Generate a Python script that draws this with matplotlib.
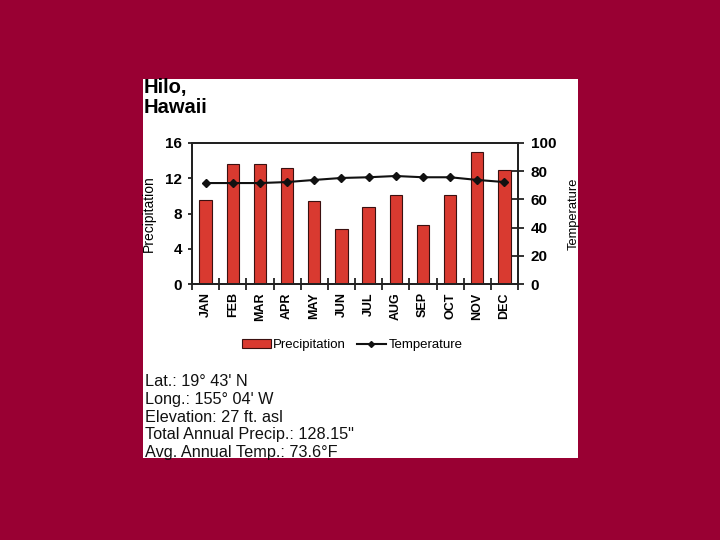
import numpy as np
import matplotlib
matplotlib.use("Agg")
import matplotlib.pyplot as plt
from matplotlib.patches import Rectangle, Patch
from matplotlib.lines import Line2D

plt.rcParams['font.family'] = ['Liberation Sans', 'DejaVu Sans']

months = ['JAN', 'FEB', 'MAR', 'APR', 'MAY', 'JUN', 'JUL', 'AUG', 'SEP', 'OCT', 'NOV', 'DEC']
precip = [9.5, 13.6, 13.6, 13.2, 9.4, 6.2, 8.7, 10.1, 6.7, 10.1, 15.0, 12.9]
temp = [71.6, 71.6, 71.6, 72.3, 73.8, 75.2, 75.7, 76.6, 75.7, 75.7, 73.8, 72.3]
precip_ticks = [0, 4, 8, 12, 16]
temp_ticks = [0, 20, 40, 60, 80, 100]
info_lines = ["Lat.: 19\u00b0 43' N",
              "Long.: 155\u00b0 04' W",
              "Elevation: 27 ft. asl",
              'Total Annual Precip.: 128.15"',
              "Avg. Annual Temp.: 73.6\u00b0F"]

W, H = 720, 540
bg = '#990033'
bar_color = '#d93a30'

fig = plt.figure(figsize=(7.2, 5.4), dpi=100, facecolor=bg)

# white panel behind everything
fig.patches.append(Rectangle((143 / W, 1 - 458 / H), 435 / W, 379 / H,
                             transform=fig.transFigure, facecolor='white',
                             edgecolor='none', zorder=-5))

ax = fig.add_axes([192 / W, 1 - 284 / H, 326 / W, 141 / H])
ax.set_facecolor('white')
x = np.arange(len(months))
ax.bar(x, precip, width=0.45, color=bar_color, edgecolor='#3a1010', linewidth=0.8, zorder=2)
ax.set_xlim(-0.5, 11.5)
ax.set_ylim(0, 16)
ax.set_yticks(precip_ticks)
ax.set_xticks(x)
ax.set_xticklabels(months, rotation=90, fontsize=9, fontweight='bold')
ax.set_xticks(np.arange(-0.5, 12, 1), minor=True)
ax.tick_params(axis='x', which='major', length=0, pad=6)
ax.tick_params(axis='x', which='minor', direction='inout', length=8, width=1.3, color='#222222')
ax.tick_params(axis='y', direction='out', length=3, width=1.3, pad=4, labelsize=11, color='#222222')
for lbl in ax.get_yticklabels():
    lbl.set_fontweight('bold')
for sp in ax.spines.values():
    sp.set_linewidth(1.4)
    sp.set_color('#222222')
ax.set_ylabel('Precipitation', fontsize=10)
ax.yaxis.set_label_coords(-0.112, 0.5)

ax2 = ax.twinx()
ax2.plot(x, temp, color='#111111', lw=1.5, marker='D', ms=4, zorder=3)
ax2.set_ylim(0, 100)
ax2.set_yticks(temp_ticks)
ax2.tick_params(axis='y', direction='inout', length=8, width=1.3, pad=5, labelsize=11, color='#222222')
for lbl in ax2.get_yticklabels():
    lbl.set_fontweight('bold')
for sp in ax2.spines.values():
    sp.set_linewidth(1.4)
    sp.set_color('#222222')
ax2.set_ylabel('Temperature', fontsize=9.3)
ax2.yaxis.set_label_coords(1.151, 0.5)

handles = [Patch(facecolor=bar_color, edgecolor='#3a1010', linewidth=0.8),
           Line2D([0], [0], color='#111111', lw=1.5, marker='D', ms=3)]
fig.legend(handles, ['Precipitation', 'Temperature'], loc='center',
           bbox_to_anchor=(352 / W, 1 - 345 / H), ncol=2, frameon=False,
           fontsize=9.5, handlelength=2.2, handletextpad=0.2, columnspacing=0.8)

fig.text(144 / W, 1 - 93 / H, 'Hilo,', fontsize=14.5, fontweight='bold', va='baseline', ha='left')
fig.text(144 / W, 1 - 113 / H, 'Hawaii', fontsize=14.5, fontweight='bold', va='baseline', ha='left')

for i, line in enumerate(info_lines):
    fig.text(145 / W, 1 - (382 + 17.6 * i) / H, line, fontsize=11.7,
             va='center', ha='left', color='#111111')

fig.savefig('out.png', dpi=100, facecolor=bg)
